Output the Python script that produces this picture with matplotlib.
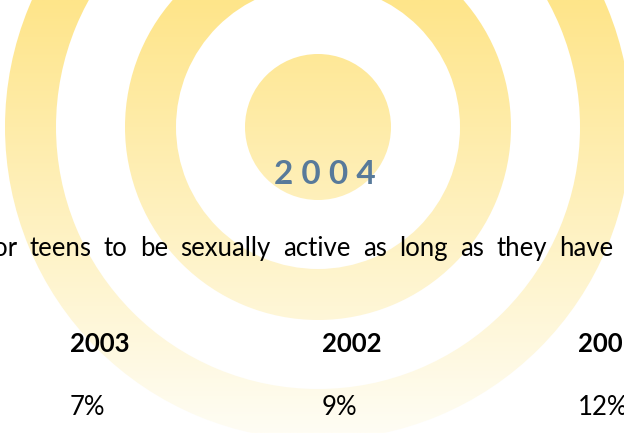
import numpy as np
import matplotlib.pyplot as plt
from matplotlib.patches import Circle, Wedge

# ===== Data =====
title_year = "2 0 0 4"
statement = "for teens to be sexually active as long as they have"
years = ["2003", "2002", "2001"]
values = [7, 9, 12]

# ===== Figure =====
fig = plt.figure(figsize=(6.24, 4.33), dpi=100)
ax = fig.add_axes([0, 0, 1, 1])
ax.set_xlim(0, 624)
ax.set_ylim(433, 0)
ax.axis('off')

# ===== Target rings with vertical yellow gradient =====
cx, cy = 318, 127
top = np.array([254, 229, 138]) / 255
bottom = np.array([255, 253, 244]) / 255
t = np.linspace(0, 1, 256)[:, None]
grad = top + (bottom - top) * t
grad = np.repeat(grad[:, None, :], 2, axis=1)

shapes = [
    Circle((cx, cy), 73),
    Wedge((cx, cy), 193, 0, 360, width=51),
    Wedge((cx, cy), 313, 0, 360, width=51),
]
for shp in shapes:
    shp.set_facecolor('none')
    shp.set_edgecolor('none')
    ax.add_patch(shp)
    im = ax.imshow(grad, extent=[0, 624, 433, 0], aspect='auto', zorder=1)
    im.set_clip_path(shp)

# ===== Title =====
ax.text(cx + 7, 184, title_year, ha='center', va='baseline', fontsize=24,
        fontweight='bold', color='#587a9a', family='Lato', zorder=3)

# ===== Justified statement line (left end runs off the edge) =====
words = statement.split()
x_left, x_right = -16, 613
renderer = fig.canvas.get_renderer()
arts = [ax.text(0, 256, w, ha='left', va='baseline', fontsize=18.5,
                color='black', family='Lato', zorder=3) for w in words]
widths = [a.get_window_extent(renderer).width for a in arts]
gap = (x_right - x_left - sum(widths)) / (len(words) - 1)
x = x_left
for a, w in zip(arts, widths):
    a.set_x(x)
    x += w + gap

# ===== Year columns =====
xs = [70, 322, 578]
for x, yr, v in zip(xs, years, values):
    ax.text(x, 352, yr, ha='left', va='baseline', fontsize=18.5,
            fontweight='bold', color='black', family='Lato', zorder=3)
    ax.text(x, 415, f"{v}%", ha='left', va='baseline', fontsize=18.5,
            color='black', family='Lato', zorder=3)

fig.savefig("out.png", dpi=100)
